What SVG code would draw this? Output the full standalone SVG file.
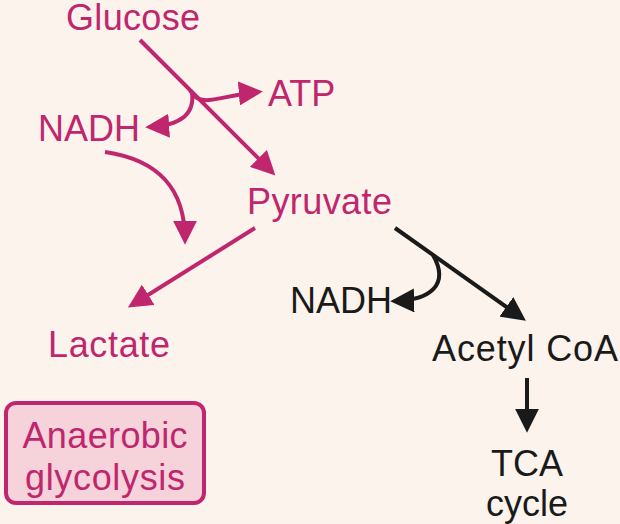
<svg xmlns="http://www.w3.org/2000/svg" width="620" height="524" viewBox="0 0 620 524">
<style>
.m{fill:#c0266e;font-family:"Liberation Sans",Arial,sans-serif;font-size:36px}
.k{fill:#1a1a1a;font-family:"Liberation Sans",Arial,sans-serif;font-size:36px}
.lm{stroke:#c0266e;stroke-width:4;fill:none}
.lk{stroke:#1a1a1a;stroke-width:4;fill:none}
</style>
<defs>
<marker id="am" viewBox="0 0 10 10" refX="8" refY="5" markerWidth="6" markerHeight="6" orient="auto"><path d="M0,0L10,5L0,10z" fill="#c0266e"/></marker>
<marker id="ak" viewBox="0 0 10 10" refX="8" refY="5" markerWidth="6" markerHeight="6" orient="auto"><path d="M0,0L10,5L0,10z" fill="#1a1a1a"/></marker>
</defs>
<rect width="620" height="524" fill="#fcf4ec"/>
<g id="connectors">
<path class="lm" d="M140,40L272,172" marker-end="url(#am)"/>
<path class="lm" d="M190,90C200,110 220,95 258,92" marker-end="url(#am)"/>
<path class="lm" d="M192,92C195,115 180,125 150,127" marker-end="url(#am)"/>
<path class="lm" d="M105,152C160,160 185,190 185,240" marker-end="url(#am)"/>
<path class="lm" d="M255,228L132,305" marker-end="url(#am)"/>
<path class="lk" d="M395,228L522,318" marker-end="url(#ak)"/>
<path class="lk" d="M433,255C450,285 430,300 395,301" marker-end="url(#ak)"/>
<path class="lk" d="M527,378L527,428" marker-end="url(#ak)"/>
</g>
<g id="glucose"><text class="m" x="66" y="30" textLength="134">Glucose</text></g>
<g id="atp"><text class="m" x="268" y="106">ATP</text></g>
<g id="nadh1"><text class="m" x="38" y="141">NADH</text></g>
<g id="pyruvate"><text class="m" x="247" y="214" textLength="145">Pyruvate</text></g>
<g id="lactate"><text class="m" x="48" y="357" textLength="122">Lactate</text></g>
<g id="nadh2"><text class="k" x="290" y="313">NADH</text></g>
<g id="acetyl"><text class="k" x="432" y="361" textLength="186">Acetyl CoA</text></g>
<g id="tca"><text class="k" x="527" y="476" text-anchor="middle">TCA</text><text class="k" x="527" y="516" text-anchor="middle">cycle</text></g>
<g id="box"><rect x="6" y="403" width="198" height="100" rx="10" fill="#f6d3da" stroke="#c0266e" stroke-width="4"/>
<text class="m" x="105" y="448" text-anchor="middle" textLength="165">Anaerobic</text><text class="m" x="105" y="490" text-anchor="middle" textLength="160">glycolysis</text></g>
</svg>
